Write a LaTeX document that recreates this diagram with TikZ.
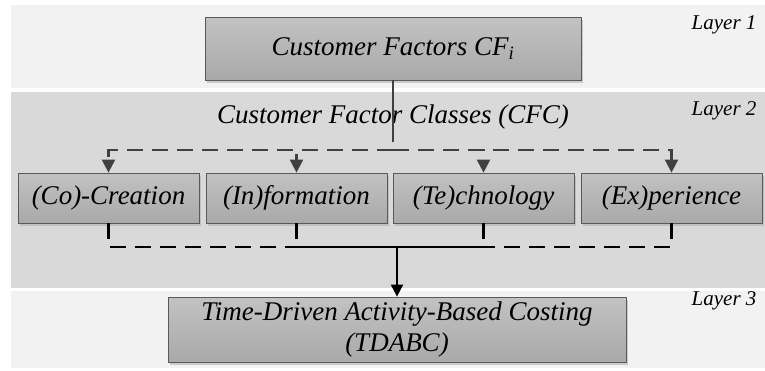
\documentclass[tikz,border=0pt]{standalone}
\usepackage{fontspec}
\setmainfont{Liberation Serif}
\usetikzlibrary{arrows.meta,shadows}
\definecolor{bandlight}{HTML}{F2F2F2}
\definecolor{banddark}{HTML}{D9D9D9}
\definecolor{boxtop}{HTML}{C2C2C2}
\definecolor{boxbot}{HTML}{A9A9A9}
\definecolor{linegray}{HTML}{404040}

\begin{document}
\begin{tikzpicture}[x=1pt,y=-1pt,
  factorbox/.style={draw=black!65,line width=0.8pt,top color=boxtop,bottom color=boxbot,
    drop shadow={shadow xshift=2pt,shadow yshift=-3pt,fill=black!35,opacity=0.5},
    font=\fontsize{27}{31}\selectfont\itshape,inner sep=0pt,align=center},
  layerlabel/.style={font=\fontsize{21}{24}\selectfont\itshape,anchor=base east},
  branch/.style={draw=linegray,line width=2.2pt,dash pattern=on 16pt off 9pt},
  merge/.style={draw=black,line width=2.2pt,dash pattern=on 16pt off 9pt}]
\useasboundingbox (0,0) rectangle (765,370);
% Layer bands
\fill[bandlight] (11,5) rectangle (765,88);
\fill[banddark] (11,92) rectangle (765,288);
\fill[bandlight] (11,291) rectangle (765,368);
% Layer labels
\node[layerlabel] (l1) at (760,29) {Layer 1};
\node[layerlabel] (l2) at (760,115) {Layer 2};
\node[layerlabel] (l3) at (760,305) {Layer 3};
% Layer 1
\node[factorbox,minimum width=376,minimum height=63] (cf) at (393,48.5) {Customer Factors CF\textsubscript{i}};
% Layer 2
\node[font=\fontsize{27}{31}\selectfont\itshape,anchor=base] (cfc) at (393,123) {Customer Factor Classes (CFC)};
\node[factorbox,minimum width=181,minimum height=50] (co) at (108.5,198) {(Co)-Creation};
\node[factorbox,minimum width=181,minimum height=50] (in) at (296.5,198) {(In)formation};
\node[factorbox,minimum width=181,minimum height=50] (te) at (483.5,198) {(Te)chnology};
\node[factorbox,minimum width=181,minimum height=50] (ex) at (671.5,198) {(Ex)perience};
% Layer 3
\node[factorbox,minimum width=458,minimum height=65] (tdabc) at (397,329.5) {Time-Driven Activity-Based Costing\\(TDABC)};
% Connectors
\coordinate (stem) at (393,126);
\coordinate (split) at (393,150);
\coordinate (join) at (397,247);
\draw[linegray,line width=2.2pt] (cf.south) -- (stem);
\draw[branch] (stem) -- (split);
\foreach \n in {co,in,te,ex}
  \draw[branch,-{Triangle[length=13pt,width=13pt]}] (split) -| (\n.north);
\foreach \n in {co,in,te,ex}
  \draw[merge] (\n.south) |- (join);
\draw[black,line width=2pt,-{Triangle[length=12pt,width=12pt]}] (join) -- (tdabc.north);
\end{tikzpicture}
\end{document}
